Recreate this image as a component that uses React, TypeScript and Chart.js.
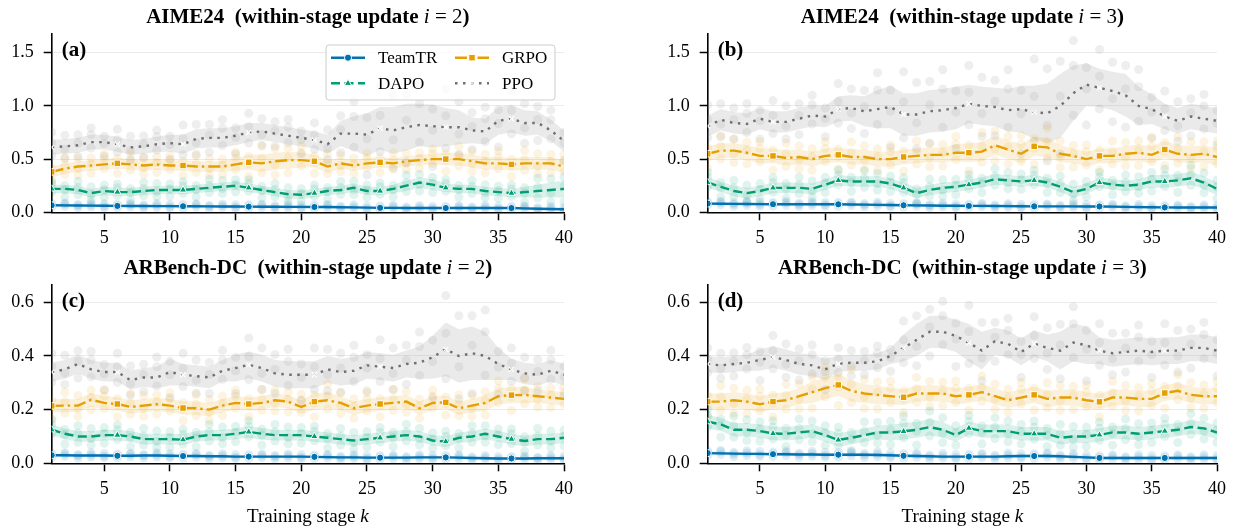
import React, { useEffect, useRef } from "react";
import { Chart, registerables } from "chart.js";

Chart.register(...registerables);

// ---------------- data ----------------
const STAGES = [1, 2, 3, 4, 5, 6, 7, 8, 9, 10, 11, 12, 13, 14, 15, 16, 17, 18, 19, 20, 21, 22, 23, 24, 25, 26, 27, 28, 29, 30, 31, 32, 33, 34, 35, 36, 37, 38, 39, 40];
const X_TICKS = [5, 10, 15, 20, 25, 30, 35, 40];
const Y_TICKS_AIME = [0, 0.5, 1.0, 1.5];
const Y_TICKS_ARB = [0, 0.2, 0.4, 0.6];
const SERIES = ["TeamTR", "DAPO", "GRPO", "PPO"];
// per-seed dot positions (in units of the band half-width), repeating every 5 stages
const SEED_PATTERN = [
  [-1.5, 0.3, 1.4],
  [-0.8, 1.0, 1.9],
  [-1.9, -0.2, 0.8],
  [-1.1, 0.6, 2.0],
  [-0.4, 1.5, -1.6],
];

// (a) AIME24, i = 2
const A_TEAMTR = [0.066, 0.065, 0.064, 0.063, 0.062, 0.060, 0.059, 0.059, 0.058, 0.058, 0.057, 0.057, 0.056, 0.055, 0.054, 0.053, 0.052, 0.052, 0.051, 0.051, 0.050, 0.050, 0.048, 0.046, 0.044, 0.042, 0.042, 0.041, 0.041, 0.040, 0.040, 0.040, 0.040, 0.041, 0.040, 0.040, 0.037, 0.034, 0.031, 0.028];
const A_DAPO = [0.22, 0.22, 0.21, 0.18, 0.20, 0.19, 0.19, 0.20, 0.21, 0.21, 0.21, 0.22, 0.23, 0.24, 0.25, 0.23, 0.21, 0.19, 0.17, 0.165, 0.18, 0.20, 0.21, 0.23, 0.20, 0.20, 0.22, 0.25, 0.28, 0.26, 0.23, 0.22, 0.22, 0.20, 0.19, 0.18, 0.19, 0.20, 0.21, 0.22];
const A_GRPO = [0.38, 0.41, 0.43, 0.44, 0.45, 0.46, 0.45, 0.44, 0.45, 0.44, 0.44, 0.43, 0.43, 0.43, 0.45, 0.47, 0.46, 0.48, 0.49, 0.49, 0.48, 0.43, 0.46, 0.44, 0.46, 0.47, 0.46, 0.48, 0.49, 0.50, 0.50, 0.50, 0.48, 0.46, 0.46, 0.45, 0.46, 0.46, 0.46, 0.43];
const A_PPO = [0.61, 0.62, 0.63, 0.66, 0.66, 0.64, 0.61, 0.62, 0.64, 0.65, 0.64, 0.69, 0.70, 0.70, 0.72, 0.75, 0.76, 0.74, 0.72, 0.70, 0.68, 0.64, 0.74, 0.74, 0.73, 0.79, 0.77, 0.80, 0.82, 0.81, 0.80, 0.80, 0.77, 0.76, 0.86, 0.88, 0.84, 0.84, 0.77, 0.67];
const A_TEAMTR_HW = [0.012, 0.012, 0.012, 0.012, 0.012, 0.012, 0.012, 0.012, 0.012, 0.012, 0.012, 0.012, 0.012, 0.012, 0.012, 0.012, 0.012, 0.012, 0.012, 0.012, 0.012, 0.012, 0.012, 0.012, 0.012, 0.012, 0.012, 0.012, 0.012, 0.012, 0.012, 0.012, 0.012, 0.012, 0.012, 0.012, 0.012, 0.012, 0.012, 0.012];
const A_DAPO_HW = [0.04, 0.04, 0.04, 0.04, 0.04, 0.04, 0.04, 0.04, 0.04, 0.04, 0.04, 0.04, 0.04, 0.04, 0.04, 0.04, 0.04, 0.04, 0.04, 0.04, 0.04, 0.04, 0.04, 0.04, 0.04, 0.04, 0.04, 0.05, 0.05, 0.05, 0.04, 0.04, 0.04, 0.04, 0.04, 0.04, 0.05, 0.06, 0.07, 0.08];
const A_GRPO_HW = [0.05, 0.05, 0.05, 0.05, 0.05, 0.05, 0.05, 0.05, 0.05, 0.05, 0.05, 0.05, 0.05, 0.05, 0.06, 0.07, 0.08, 0.08, 0.08, 0.07, 0.06, 0.06, 0.05, 0.05, 0.05, 0.05, 0.05, 0.05, 0.05, 0.05, 0.06, 0.06, 0.06, 0.06, 0.06, 0.06, 0.06, 0.06, 0.06, 0.06];
const A_PPO_HW = [0.07, 0.07, 0.07, 0.07, 0.07, 0.07, 0.07, 0.07, 0.07, 0.08, 0.09, 0.09, 0.09, 0.09, 0.09, 0.09, 0.08, 0.08, 0.08, 0.08, 0.08, 0.09, 0.12, 0.16, 0.20, 0.20, 0.22, 0.22, 0.20, 0.20, 0.18, 0.16, 0.12, 0.12, 0.13, 0.13, 0.12, 0.11, 0.10, 0.10];

// (b) AIME24, i = 3
const B_TEAMTR = [0.082, 0.080, 0.079, 0.078, 0.077, 0.076, 0.076, 0.076, 0.076, 0.075, 0.075, 0.074, 0.072, 0.070, 0.068, 0.066, 0.065, 0.064, 0.062, 0.061, 0.060, 0.060, 0.059, 0.058, 0.057, 0.056, 0.056, 0.056, 0.056, 0.055, 0.055, 0.053, 0.051, 0.049, 0.047, 0.046, 0.045, 0.045, 0.045, 0.045];
const B_DAPO = [0.28, 0.24, 0.20, 0.18, 0.20, 0.23, 0.23, 0.23, 0.22, 0.26, 0.30, 0.29, 0.29, 0.29, 0.27, 0.23, 0.18, 0.21, 0.23, 0.24, 0.26, 0.28, 0.31, 0.30, 0.29, 0.30, 0.28, 0.24, 0.19, 0.22, 0.28, 0.26, 0.25, 0.26, 0.29, 0.29, 0.30, 0.32, 0.28, 0.22];
const B_GRPO = [0.55, 0.58, 0.58, 0.56, 0.53, 0.53, 0.51, 0.52, 0.50, 0.53, 0.54, 0.52, 0.52, 0.50, 0.50, 0.52, 0.53, 0.54, 0.54, 0.56, 0.56, 0.57, 0.63, 0.59, 0.55, 0.62, 0.61, 0.55, 0.53, 0.50, 0.53, 0.53, 0.55, 0.56, 0.54, 0.59, 0.55, 0.54, 0.55, 0.52];
const B_PPO = [0.81, 0.87, 0.84, 0.83, 0.88, 0.85, 0.85, 0.88, 0.91, 0.90, 0.97, 0.98, 0.95, 0.97, 0.99, 0.92, 0.92, 0.95, 0.96, 0.98, 1.02, 1.00, 0.99, 0.96, 0.97, 0.94, 0.93, 1.00, 1.12, 1.20, 1.17, 1.14, 1.10, 1.00, 0.97, 0.90, 0.86, 0.90, 0.88, 0.86];
const B_TEAMTR_HW = [0.012, 0.012, 0.012, 0.012, 0.012, 0.012, 0.012, 0.012, 0.012, 0.012, 0.012, 0.012, 0.012, 0.012, 0.012, 0.012, 0.012, 0.012, 0.012, 0.012, 0.012, 0.012, 0.012, 0.012, 0.012, 0.012, 0.012, 0.012, 0.012, 0.012, 0.012, 0.012, 0.012, 0.012, 0.012, 0.012, 0.012, 0.012, 0.012, 0.012];
const B_DAPO_HW = [0.05, 0.05, 0.05, 0.05, 0.05, 0.05, 0.05, 0.05, 0.05, 0.05, 0.05, 0.05, 0.05, 0.05, 0.05, 0.05, 0.05, 0.05, 0.05, 0.05, 0.05, 0.05, 0.05, 0.05, 0.05, 0.05, 0.05, 0.05, 0.05, 0.05, 0.05, 0.05, 0.05, 0.05, 0.06, 0.06, 0.06, 0.06, 0.06, 0.06];
const B_GRPO_HW = [0.07, 0.07, 0.07, 0.07, 0.07, 0.07, 0.07, 0.07, 0.07, 0.07, 0.07, 0.07, 0.07, 0.07, 0.07, 0.07, 0.07, 0.07, 0.07, 0.08, 0.09, 0.09, 0.09, 0.09, 0.09, 0.09, 0.09, 0.08, 0.07, 0.07, 0.07, 0.07, 0.07, 0.08, 0.08, 0.08, 0.08, 0.08, 0.08, 0.08];
const B_PPO_HW = [0.10, 0.10, 0.10, 0.10, 0.10, 0.10, 0.10, 0.10, 0.10, 0.10, 0.12, 0.12, 0.14, 0.18, 0.20, 0.20, 0.20, 0.20, 0.20, 0.20, 0.18, 0.18, 0.18, 0.20, 0.22, 0.25, 0.28, 0.30, 0.26, 0.20, 0.18, 0.18, 0.20, 0.18, 0.14, 0.12, 0.12, 0.12, 0.12, 0.12];

// (c) ARBench-DC, i = 2
const C_TEAMTR = [0.030, 0.030, 0.029, 0.029, 0.029, 0.028, 0.028, 0.029, 0.029, 0.028, 0.027, 0.027, 0.026, 0.026, 0.025, 0.025, 0.025, 0.025, 0.025, 0.025, 0.024, 0.023, 0.022, 0.022, 0.021, 0.021, 0.021, 0.021, 0.022, 0.022, 0.022, 0.021, 0.020, 0.019, 0.018, 0.018, 0.018, 0.019, 0.019, 0.019];
const C_DAPO = [0.125, 0.11, 0.10, 0.10, 0.105, 0.105, 0.10, 0.09, 0.09, 0.09, 0.088, 0.10, 0.105, 0.105, 0.11, 0.117, 0.11, 0.105, 0.105, 0.105, 0.10, 0.095, 0.09, 0.085, 0.09, 0.095, 0.10, 0.105, 0.10, 0.085, 0.081, 0.095, 0.10, 0.11, 0.10, 0.09, 0.083, 0.09, 0.09, 0.095];
const C_GRPO = [0.214, 0.215, 0.215, 0.237, 0.225, 0.221, 0.21, 0.215, 0.22, 0.215, 0.206, 0.205, 0.20, 0.215, 0.225, 0.221, 0.225, 0.235, 0.23, 0.21, 0.23, 0.235, 0.225, 0.205, 0.215, 0.221, 0.225, 0.23, 0.205, 0.225, 0.227, 0.205, 0.215, 0.225, 0.25, 0.254, 0.255, 0.25, 0.245, 0.24];
const C_PPO = [0.34, 0.35, 0.37, 0.35, 0.34, 0.34, 0.31, 0.32, 0.32, 0.34, 0.33, 0.325, 0.32, 0.345, 0.355, 0.367, 0.355, 0.335, 0.33, 0.33, 0.33, 0.35, 0.34, 0.345, 0.365, 0.36, 0.355, 0.37, 0.375, 0.395, 0.425, 0.40, 0.41, 0.40, 0.37, 0.35, 0.335, 0.33, 0.345, 0.33];
const C_TEAMTR_HW = [0.005, 0.005, 0.005, 0.005, 0.005, 0.005, 0.005, 0.005, 0.005, 0.005, 0.005, 0.005, 0.005, 0.005, 0.005, 0.005, 0.005, 0.005, 0.005, 0.005, 0.005, 0.005, 0.005, 0.005, 0.005, 0.005, 0.005, 0.005, 0.005, 0.005, 0.005, 0.005, 0.005, 0.005, 0.005, 0.005, 0.005, 0.005, 0.005, 0.005];
const C_DAPO_HW = [0.02, 0.02, 0.02, 0.02, 0.02, 0.02, 0.02, 0.02, 0.02, 0.02, 0.02, 0.02, 0.02, 0.02, 0.02, 0.022, 0.022, 0.02, 0.02, 0.02, 0.02, 0.02, 0.02, 0.02, 0.02, 0.02, 0.02, 0.02, 0.02, 0.02, 0.02, 0.02, 0.02, 0.02, 0.02, 0.02, 0.02, 0.02, 0.02, 0.02];
const C_GRPO_HW = [0.025, 0.025, 0.025, 0.025, 0.025, 0.025, 0.025, 0.025, 0.025, 0.025, 0.025, 0.025, 0.025, 0.025, 0.025, 0.025, 0.025, 0.025, 0.025, 0.025, 0.03, 0.03, 0.025, 0.025, 0.025, 0.025, 0.025, 0.025, 0.025, 0.025, 0.025, 0.025, 0.025, 0.03, 0.03, 0.03, 0.03, 0.025, 0.025, 0.025];
const C_PPO_HW = [0.035, 0.035, 0.035, 0.035, 0.035, 0.035, 0.035, 0.035, 0.04, 0.05, 0.04, 0.04, 0.04, 0.04, 0.05, 0.05, 0.05, 0.05, 0.05, 0.05, 0.05, 0.05, 0.05, 0.05, 0.05, 0.05, 0.05, 0.05, 0.06, 0.08, 0.10, 0.10, 0.10, 0.09, 0.06, 0.04, 0.04, 0.04, 0.04, 0.04];

// (d) ARBench-DC, i = 3
const D_TEAMTR = [0.038, 0.037, 0.036, 0.035, 0.035, 0.034, 0.034, 0.033, 0.033, 0.032, 0.032, 0.032, 0.032, 0.031, 0.030, 0.028, 0.027, 0.026, 0.025, 0.025, 0.025, 0.025, 0.025, 0.026, 0.027, 0.027, 0.027, 0.026, 0.024, 0.022, 0.020, 0.020, 0.020, 0.020, 0.020, 0.020, 0.020, 0.020, 0.020, 0.020];
const D_DAPO = [0.155, 0.145, 0.125, 0.125, 0.12, 0.111, 0.11, 0.115, 0.12, 0.105, 0.087, 0.095, 0.105, 0.115, 0.115, 0.119, 0.125, 0.135, 0.125, 0.105, 0.131, 0.12, 0.12, 0.12, 0.11, 0.11, 0.11, 0.095, 0.10, 0.10, 0.106, 0.115, 0.115, 0.11, 0.115, 0.12, 0.125, 0.135, 0.13, 0.115];
const D_GRPO = [0.23, 0.23, 0.235, 0.23, 0.22, 0.23, 0.235, 0.25, 0.265, 0.28, 0.292, 0.27, 0.26, 0.255, 0.25, 0.246, 0.26, 0.26, 0.26, 0.25, 0.255, 0.265, 0.25, 0.235, 0.245, 0.255, 0.24, 0.245, 0.245, 0.235, 0.229, 0.245, 0.245, 0.24, 0.24, 0.262, 0.27, 0.255, 0.25, 0.25];
const D_PPO = [0.37, 0.365, 0.37, 0.375, 0.385, 0.396, 0.385, 0.37, 0.365, 0.35, 0.371, 0.375, 0.375, 0.38, 0.40, 0.43, 0.46, 0.49, 0.49, 0.475, 0.449, 0.42, 0.455, 0.445, 0.415, 0.446, 0.43, 0.42, 0.45, 0.44, 0.42, 0.41, 0.415, 0.42, 0.415, 0.42, 0.42, 0.43, 0.43, 0.42];
const D_TEAMTR_HW = [0.006, 0.006, 0.006, 0.006, 0.006, 0.006, 0.006, 0.006, 0.006, 0.006, 0.006, 0.006, 0.006, 0.006, 0.006, 0.006, 0.006, 0.006, 0.006, 0.006, 0.006, 0.006, 0.006, 0.006, 0.006, 0.006, 0.006, 0.006, 0.006, 0.006, 0.006, 0.006, 0.006, 0.006, 0.006, 0.006, 0.006, 0.006, 0.006, 0.006];
const D_DAPO_HW = [0.025, 0.025, 0.025, 0.025, 0.025, 0.025, 0.025, 0.025, 0.025, 0.025, 0.025, 0.025, 0.025, 0.025, 0.03, 0.03, 0.03, 0.03, 0.03, 0.025, 0.025, 0.025, 0.025, 0.025, 0.025, 0.025, 0.025, 0.025, 0.025, 0.025, 0.025, 0.025, 0.025, 0.025, 0.025, 0.025, 0.025, 0.025, 0.025, 0.025];
const D_GRPO_HW = [0.03, 0.03, 0.03, 0.03, 0.03, 0.03, 0.03, 0.03, 0.04, 0.04, 0.04, 0.04, 0.035, 0.035, 0.03, 0.03, 0.03, 0.03, 0.03, 0.03, 0.03, 0.03, 0.03, 0.03, 0.03, 0.03, 0.03, 0.03, 0.03, 0.03, 0.03, 0.03, 0.03, 0.03, 0.03, 0.03, 0.03, 0.03, 0.03, 0.03];
const D_PPO_HW = [0.03, 0.03, 0.03, 0.03, 0.04, 0.04, 0.04, 0.04, 0.04, 0.04, 0.03, 0.03, 0.03, 0.03, 0.03, 0.05, 0.06, 0.06, 0.06, 0.06, 0.07, 0.07, 0.05, 0.05, 0.05, 0.05, 0.05, 0.07, 0.07, 0.07, 0.05, 0.05, 0.05, 0.05, 0.05, 0.05, 0.05, 0.05, 0.05, 0.05];

// ---------------- styling ----------------
const SERIF = '"Liberation Serif", "Times New Roman", serif';
const W = 1233;
const H = 529;
const Y_W = 45;
const X_H = 40;

type Style = { color: string; band: string; dot: string; dash: number[]; marker: string; r: number };
const STYLES: Style[] = [
  { color: "#0072B2", band: "rgba(0,114,178,0.15)", dot: "rgba(0,114,178,0.12)", dash: [], marker: "circle", r: 3.6 },
  { color: "#009E73", band: "rgba(0,158,115,0.15)", dot: "rgba(0,158,115,0.12)", dash: [9, 4.5], marker: "triangle", r: 4.2 },
  { color: "#E69F00", band: "rgba(230,159,0,0.14)", dot: "rgba(230,159,0,0.12)", dash: [12, 4, 2.5, 4], marker: "rect", r: 4.6 },
  { color: "#707070", band: "rgba(150,150,150,0.2)", dot: "rgba(150,150,150,0.16)", dash: [2.5, 5.5], marker: "crossRot", r: 3.5 },
];

type PanelCfg = {
  key: string;
  bench: string;
  iv: string;
  yMax: number;
  yTicks: number[];
  area: { left: number; right: number; top: number; bottom: number };
  means: number[][];
  hws: number[][];
  legend: boolean;
  xlabel: boolean;
};

const PANELS: PanelCfg[] = [
  { key: "a", bench: "AIME24", iv: "2", yMax: 1.676, yTicks: Y_TICKS_AIME, area: { left: 51.7, right: 564, top: 34, bottom: 212.3 }, means: [A_TEAMTR, A_DAPO, A_GRPO, A_PPO], hws: [A_TEAMTR_HW, A_DAPO_HW, A_GRPO_HW, A_PPO_HW], legend: true, xlabel: false },
  { key: "b", bench: "AIME24", iv: "3", yMax: 1.676, yTicks: Y_TICKS_AIME, area: { left: 707.7, right: 1220, top: 34, bottom: 212.3 }, means: [B_TEAMTR, B_DAPO, B_GRPO, B_PPO], hws: [B_TEAMTR_HW, B_DAPO_HW, B_GRPO_HW, B_PPO_HW], legend: false, xlabel: false },
  { key: "c", bench: "ARBench-DC", iv: "2", yMax: 0.6645, yTicks: Y_TICKS_ARB, area: { left: 51.7, right: 564, top: 285, bottom: 463.3 }, means: [C_TEAMTR, C_DAPO, C_GRPO, C_PPO], hws: [C_TEAMTR_HW, C_DAPO_HW, C_GRPO_HW, C_PPO_HW], legend: false, xlabel: true },
  { key: "d", bench: "ARBench-DC", iv: "3", yMax: 0.6645, yTicks: Y_TICKS_ARB, area: { left: 707.7, right: 1220, top: 285, bottom: 463.3 }, means: [D_TEAMTR, D_DAPO, D_GRPO, D_PPO], hws: [D_TEAMTR_HW, D_DAPO_HW, D_GRPO_HW, D_PPO_HW], legend: false, xlabel: true },
];

type Seg = { t: string; f: string };
function drawSegs(c: CanvasRenderingContext2D, segs: Seg[], cx: number, y: number, baseline: CanvasTextBaseline) {
  let total = 0;
  const widths = segs.map((s) => {
    c.font = s.f;
    const w = c.measureText(s.t).width;
    total += w;
    return w;
  });
  let x = cx - total / 2;
  c.textAlign = "left";
  c.textBaseline = baseline;
  c.fillStyle = "#000";
  segs.forEach((s, i) => {
    c.font = s.f;
    c.fillText(s.t, x, y);
    x += widths[i];
  });
}

function drawMarker(c: CanvasRenderingContext2D, st: Style, x: number, y: number) {
  c.save();
  c.setLineDash([]);
  c.fillStyle = st.color;
  c.strokeStyle = "#fff";
  c.lineWidth = 1;
  c.beginPath();
  if (st.marker === "circle") {
    c.arc(x, y, st.r, 0, Math.PI * 2);
    c.fill();
    c.stroke();
  } else if (st.marker === "triangle") {
    const r = st.r;
    c.moveTo(x, y - r);
    c.lineTo(x + r * 0.866, y + r * 0.5);
    c.lineTo(x - r * 0.866, y + r * 0.5);
    c.closePath();
    c.fill();
    c.stroke();
  } else if (st.marker === "rect") {
    const s = st.r * Math.SQRT1_2;
    c.rect(x - s, y - s, 2 * s, 2 * s);
    c.fill();
    c.stroke();
  } else {
    const s = st.r * 0.7;
    c.moveTo(x - s, y - s);
    c.lineTo(x + s, y + s);
    c.moveTo(x + s, y - s);
    c.lineTo(x - s, y + s);
    c.stroke();
  }
  c.restore();
}

function decorPlugin(p: PanelCfg) {
  return {
    id: "decor_" + p.key,
    afterDraw(chart: any) {
      const c: CanvasRenderingContext2D = chart.ctx;
      const a = chart.chartArea;
      const cx = (a.left + a.right) / 2;
      c.save();
      drawSegs(
        c,
        [
          { t: `${p.bench}  (within-stage update `, f: `bold 21px ${SERIF}` },
          { t: "i", f: `italic 21px ${SERIF}` },
          { t: ` = ${p.iv}`, f: `21px ${SERIF}` },
          { t: ")", f: `bold 21px ${SERIF}` },
        ],
        cx,
        a.top - 11.5,
        "alphabetic"
      );
      c.font = `bold 21px ${SERIF}`;
      c.textAlign = "left";
      c.textBaseline = "middle";
      c.fillStyle = "#000";
      c.fillText(`(${p.key})`, a.left + 10, a.top + 17);
      if (p.xlabel) {
        drawSegs(
          c,
          [
            { t: "Training stage ", f: `19px ${SERIF}` },
            { t: "k", f: `italic 19px ${SERIF}` },
          ],
          cx,
          a.bottom + 54,
          "middle"
        );
      }
      if (p.legend) {
        const bw = 229;
        const bh = 55;
        const bx = a.right - 9 - bw;
        const by = a.top + 11;
        const rr = 3;
        c.beginPath();
        c.moveTo(bx + rr, by);
        c.lineTo(bx + bw - rr, by);
        c.quadraticCurveTo(bx + bw, by, bx + bw, by + rr);
        c.lineTo(bx + bw, by + bh - rr);
        c.quadraticCurveTo(bx + bw, by + bh, bx + bw - rr, by + bh);
        c.lineTo(bx + rr, by + bh);
        c.quadraticCurveTo(bx, by + bh, bx, by + bh - rr);
        c.lineTo(bx, by + rr);
        c.quadraticCurveTo(bx, by, bx + rr, by);
        c.closePath();
        c.fillStyle = "rgba(255,255,255,0.8)";
        c.fill();
        c.strokeStyle = "#cccccc";
        c.lineWidth = 1;
        c.stroke();
        const cells = [
          { s: 0, col: 0, row: 0 },
          { s: 2, col: 1, row: 0 },
          { s: 1, col: 0, row: 1 },
          { s: 3, col: 1, row: 1 },
        ];
        cells.forEach((cell) => {
          const st = STYLES[cell.s];
          const x0 = bx + 5 + cell.col * 124;
          const y0 = by + 12.7 + cell.row * 25.6;
          c.save();
          c.strokeStyle = st.color;
          c.lineWidth = 2.4;
          c.setLineDash(st.dash);
          c.beginPath();
          c.moveTo(x0, y0);
          c.lineTo(x0 + 34, y0);
          c.stroke();
          c.restore();
          drawMarker(c, st, x0 + 17, y0);
          c.font = `17px ${SERIF}`;
          c.fillStyle = "#000";
          c.textAlign = "left";
          c.textBaseline = "middle";
          c.fillText(SERIES[cell.s], x0 + 47, y0 + 1);
        });
      }
      c.restore();
    },
  };
}

function buildDatasets(p: PanelCfg) {
  const ds: any[] = [];
  SERIES.forEach((name, s) => {
    const st = STYLES[s];
    const mean = p.means[s];
    const hw = p.hws[s];
    ds.push({
      type: "line",
      label: name + " lower",
      data: STAGES.map((x, i) => ({ x, y: mean[i] - hw[i] })),
      borderColor: "rgba(0,0,0,0)",
      borderWidth: 0,
      pointRadius: 0,
      fill: false,
      order: 3,
    });
    ds.push({
      type: "line",
      label: name + " upper",
      data: STAGES.map((x, i) => ({ x, y: mean[i] + hw[i] })),
      borderColor: "rgba(0,0,0,0)",
      borderWidth: 0,
      pointRadius: 0,
      fill: "-1",
      backgroundColor: st.band,
      order: 3,
    });
    const dots: { x: number; y: number }[] = [];
    STAGES.forEach((x, i) => {
      SEED_PATTERN[(i + s) % SEED_PATTERN.length].forEach((o) => dots.push({ x, y: mean[i] + o * hw[i] }));
    });
    ds.push({
      type: "scatter",
      label: name + " seeds",
      data: dots,
      pointRadius: 4.5,
      pointBackgroundColor: st.dot,
      backgroundColor: st.dot,
      pointBorderWidth: 0,
      borderWidth: 0,
      order: 2,
    });
    ds.push({
      type: "line",
      label: name,
      data: STAGES.map((x, i) => ({ x, y: mean[i] })),
      borderColor: st.color,
      borderWidth: 2.4,
      borderDash: st.dash,
      borderCapStyle: "butt",
      fill: false,
      tension: 0,
      pointStyle: st.marker,
      pointRadius: STAGES.map((x) => ((x - 1) % 5 === 0 ? st.r : 0)),
      pointBackgroundColor: st.color,
      pointBorderColor: "#ffffff",
      pointBorderWidth: st.marker === "crossRot" ? 1.2 : 1,
      order: 1 + s * 0.01,
    });
  });
  return ds;
}

function PanelChart({ p }: { p: PanelCfg }) {
  const ref = useRef<HTMLCanvasElement | null>(null);
  useEffect(() => {
    if (!ref.current) return;
    const tickFont = { family: SERIF, size: 18 };
    const chart = new Chart(ref.current, {
      type: "line",
      data: { datasets: buildDatasets(p) },
      options: {
        responsive: false,
        animation: false,
        devicePixelRatio: 1,
        events: [],
        layout: {
          padding: {
            left: p.area.left - Y_W,
            right: W - p.area.right,
            top: p.area.top,
            bottom: H - p.area.bottom - X_H,
          },
        },
        plugins: {
          legend: { display: false },
          tooltip: { enabled: false },
          title: { display: false },
        },
        scales: {
          x: {
            type: "linear",
            min: 1,
            max: 40,
            afterBuildTicks: (axis: any) => {
              axis.ticks = X_TICKS.map((v) => ({ value: v }));
            },
            afterFit: (axis: any) => {
              axis.height = X_H;
            },
            grid: { drawOnChartArea: false, drawTicks: true, tickLength: 8, tickWidth: 1.5, tickColor: "#000" },
            border: { display: true, color: "#000", width: 1.6 },
            ticks: { font: tickFont, color: "#000", padding: 7, maxRotation: 0, autoSkip: false },
          },
          y: {
            type: "linear",
            min: 0,
            max: p.yMax,
            afterBuildTicks: (axis: any) => {
              axis.ticks = p.yTicks.map((v) => ({ value: v }));
            },
            afterFit: (axis: any) => {
              axis.width = Y_W;
            },
            grid: { color: "#ebebeb", lineWidth: 1, drawTicks: true, tickLength: 8, tickWidth: 1.5, tickColor: "#000" },
            border: { display: true, color: "#000", width: 1.6 },
            ticks: {
              font: tickFont,
              color: "#000",
              padding: 10,
              autoSkip: false,
              callback: (v: any) => Number(v).toFixed(1),
            },
          },
        },
      } as any,
      plugins: [decorPlugin(p)],
    });
    return () => chart.destroy();
  }, [p]);
  return (
    <canvas
      ref={ref}
      width={W}
      height={H}
      style={{ position: "absolute", left: 0, top: 0, width: W, height: H }}
    />
  );
}

export default function App() {
  return (
    <div style={{ position: "absolute", left: 0, top: 0, width: W, height: H, background: "#fff", overflow: "hidden" }}>
      {PANELS.map((p) => (
        <PanelChart key={p.key} p={p} />
      ))}
    </div>
  );
}
